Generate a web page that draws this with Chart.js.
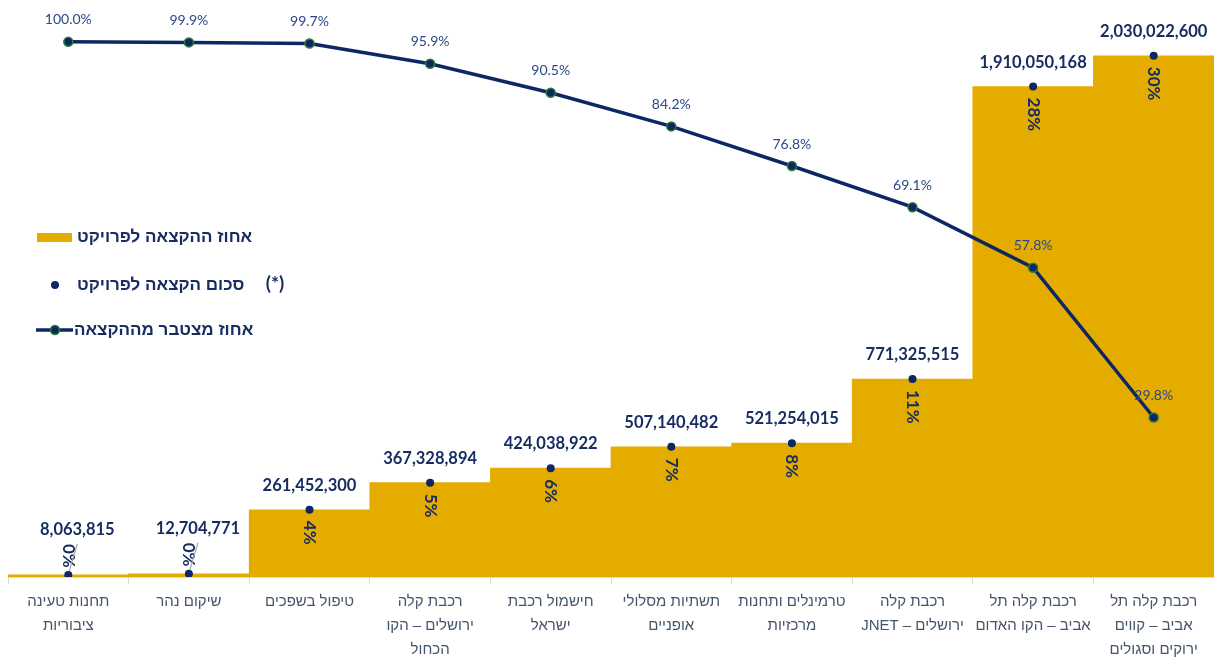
<!DOCTYPE html>
<html lang="he">
<head>
<meta charset="utf-8">
<script src="https://cdn.jsdelivr.net/npm/chart.js@4.4.1/dist/chart.umd.min.js"></script>
<style>
  html, body { margin: 0; padding: 0; background: #ffffff; overflow: hidden; }
  #wrap { width: 1214px; height: 659px; position: relative; overflow: hidden; }
  #c { position: absolute; left: 0; top: 0; }
</style>
</head>
<body>
<div id="wrap"><canvas id="c" width="1220" height="659" dir="rtl"></canvas></div>
<script>
// ---- data ----
const categories = [
  ['תחנות טעינה', 'ציבוריות'],
  ['שיקום נהר'],
  ['טיפול בשפכים'],
  ['רכבת קלה', 'ירושלים – הקו', 'הכחול'],
  ['חישמול רכבת', 'ישראל'],
  ['תשתיות מסלולי', 'אופניים'],
  ['טרמינלים ותחנות', 'מרכזיות'],
  ['רכבת קלה', 'ירושלים – JNET'],
  ['רכבת קלה תל', 'אביב – הקו האדום'],
  ['רכבת קלה תל', 'אביב – קווים', 'ירוקים וסגולים']
];
const allocationAmount = [8063815, 12704771, 261452300, 367328894, 424038922, 507140482, 521254015, 771325515, 1910050168, 2030022600];
const allocationShare = ['0%', '0%', '4%', '5%', '6%', '7%', '8%', '11%', '28%', '30%'];
const cumulativeShare = [100.0, 99.9, 99.7, 95.9, 90.5, 84.2, 76.8, 69.1, 57.8, 29.8];
const legendLabels = ['אחוז ההקצאה לפרויקט', 'סכום הקצאה לפרויקט', 'אחוז מצטבר מההקצאה'];
const legendNote = '(*)';

// ---- styles ----
const GOLD = '#E5AC00';
const NAVY = '#0D2764';
const NAVY_TEXT = '#172D62';
const LINE_LABEL = '#2B4888';
const GREEN = '#2E7D32';
const AXIS_TEXT = '#44546A';
const NUM_FONT = 'Lato, "Liberation Sans", sans-serif';
const HEB_FONT = '"Liberation Sans", "DejaVu Sans", sans-serif';

const labelsPlugin = {
  id: 'customLabels',
  afterDatasetsDraw(chart) {
    const ctx = chart.ctx;
    const dots = chart.getDatasetMeta(1).data;
    dots.forEach((pt, i) => {
      const x = pt.x, y = pt.y;
      const small = i < 2;
      ctx.save();
      ctx.direction = 'ltr';
      ctx.fillStyle = NAVY_TEXT;
      ctx.font = 'bold 16.5px ' + NUM_FONT;
      ctx.textAlign = 'center';
      ctx.textBaseline = 'middle';
      const txt = allocationAmount[i].toLocaleString('en-US');
      if (small) {
        ctx.fillText(txt, x + 9, y - 45);
      } else {
        ctx.fillText(txt, x, y - 24);
      }
      ctx.restore();

      ctx.save();
      ctx.direction = 'ltr';
      ctx.fillStyle = NAVY_TEXT;
      ctx.font = 'bold 17px ' + NUM_FONT;
      ctx.textAlign = 'left';
      ctx.textBaseline = 'middle';
      if (small) {
        ctx.translate(x, y - 31);
      } else {
        ctx.translate(x, y + 11);
      }
      ctx.rotate(Math.PI / 2);
      ctx.fillText(allocationShare[i], 0, 0);
      ctx.restore();

      if (small) {
        ctx.save();
        ctx.strokeStyle = '#A6A6A6';
        ctx.lineWidth = 1.2;
        ctx.beginPath();
        ctx.moveTo(x + 9, y - 31);
        ctx.lineTo(x + 1, y - 4);
        ctx.stroke();
        ctx.restore();
      }
    });

    const linePts = chart.getDatasetMeta(2).data;
    linePts.forEach((pt, i) => {
      ctx.save();
      ctx.direction = 'ltr';
      ctx.fillStyle = LINE_LABEL;
      ctx.font = '14px ' + NUM_FONT;
      ctx.textAlign = 'center';
      ctx.textBaseline = 'middle';
      ctx.fillText(cumulativeShare[i].toFixed(1) + '%', pt.x, pt.y - 22);
      ctx.restore();
    });
  },
  afterDraw(chart) {
    const ctx = chart.ctx;
    ctx.save();
    ctx.fillStyle = GOLD;
    ctx.fillRect(37, 233, 35, 9);
    ctx.fillStyle = NAVY;
    ctx.beginPath(); ctx.arc(55, 285, 4, 0, Math.PI * 2); ctx.fill();
    ctx.strokeStyle = NAVY;
    ctx.lineWidth = 3.5;
    ctx.beginPath(); ctx.moveTo(36, 330); ctx.lineTo(73, 330); ctx.stroke();
    ctx.fillStyle = NAVY;
    ctx.strokeStyle = GREEN;
    ctx.lineWidth = 1.5;
    ctx.beginPath(); ctx.arc(55, 330, 4.5, 0, Math.PI * 2); ctx.fill(); ctx.stroke();

    ctx.fillStyle = NAVY_TEXT;
    ctx.font = 'bold 17px ' + HEB_FONT;
    ctx.textBaseline = 'middle';
    ctx.textAlign = 'left';
    ctx.direction = 'rtl';
    ctx.fillText(legendLabels[0], 77, 237);
    ctx.fillText(legendLabels[1], 77, 285);
    ctx.fillText(legendLabels[2], 74, 330);
    ctx.direction = 'ltr';
    ctx.textAlign = 'center';
    ctx.font = 'bold 19px ' + NUM_FONT;
    ctx.fillText(legendNote, 275, 284);
    ctx.restore();
  }
};

new Chart(document.getElementById('c'), {
  type: 'bar',
  data: {
    labels: categories,
    datasets: [
      {
        type: 'bar',
        data: allocationAmount,
        yAxisID: 'y',
        backgroundColor: GOLD,
        borderWidth: 0,
        categoryPercentage: 1.0,
        barPercentage: 1.0,
        order: 3
      },
      {
        type: 'line',
        data: allocationAmount,
        yAxisID: 'y',
        showLine: false,
        pointRadius: 4,
        pointBackgroundColor: NAVY,
        pointBorderColor: NAVY,
        pointBorderWidth: 0,
        order: 2
      },
      {
        type: 'line',
        data: cumulativeShare,
        yAxisID: 'y2',
        borderColor: NAVY,
        borderWidth: 3.5,
        tension: 0,
        pointRadius: 4.5,
        pointBackgroundColor: NAVY,
        pointBorderColor: GREEN,
        pointBorderWidth: 1.5,
        order: 1
      }
    ]
  },
  options: {
    responsive: false,
    devicePixelRatio: 1,
    animation: false,
    layout: { padding: { left: 8, right: 0, top: 0, bottom: 0 } },
    plugins: { legend: { display: false }, tooltip: { enabled: false } },
    scales: {
      x: {
        offset: true,
        grid: {
          offset: true,
          drawOnChartArea: false,
          drawTicks: true,
          tickLength: 7,
          color: '#D9D9D9'
        },
        border: { display: true, color: '#D9D9D9' },
        ticks: {
          autoSkip: false,
          maxRotation: 0,
          minRotation: 0,
          padding: 6,
          color: AXIS_TEXT,
          font: { family: HEB_FONT, size: 15, lineHeight: '24px' }
        },
        afterFit(scale) { scale.height = 82; }
      },
      y: {
        display: false,
        min: 0,
        max: 2224000000
      },
      y2: {
        display: false,
        position: 'right',
        min: 0,
        max: 106.7
      }
    }
  },
  plugins: [labelsPlugin]
});
</script>
</body>
</html>
